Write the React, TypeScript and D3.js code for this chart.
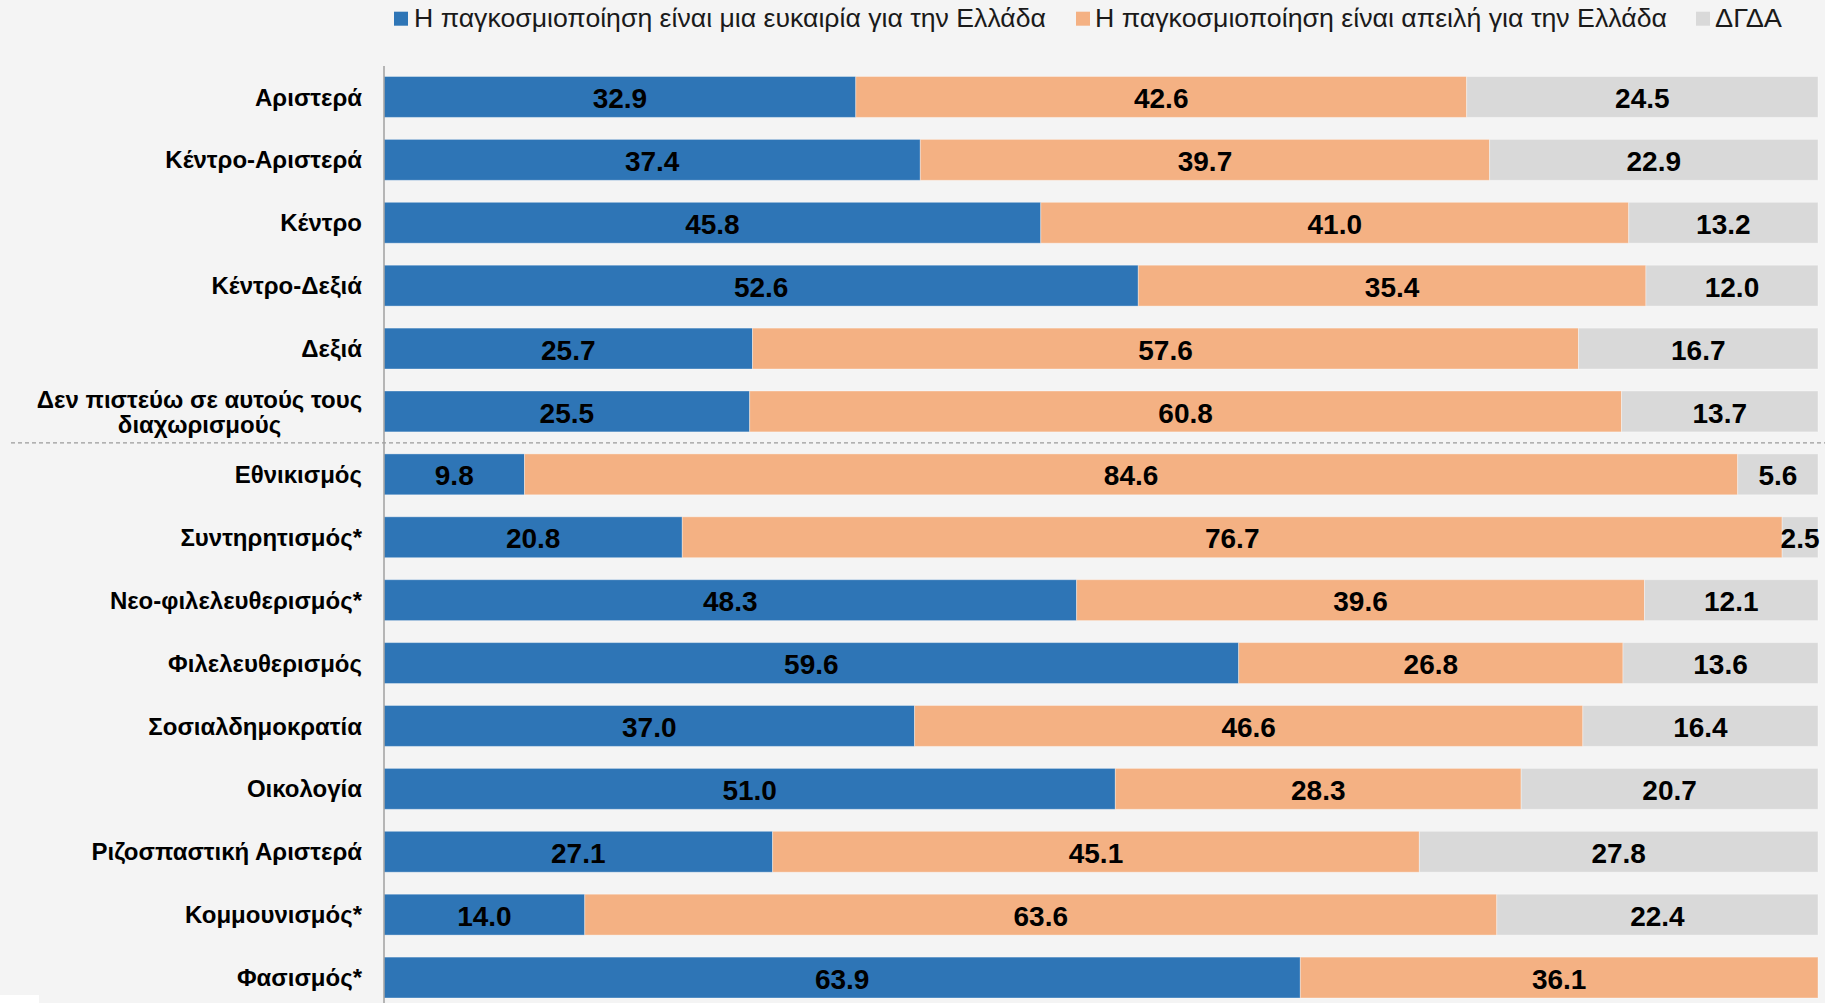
import React from "react";
import * as d3 from "d3";

const categories = [
  "Αριστερά",
  "Κέντρο-Αριστερά",
  "Κέντρο",
  "Κέντρο-Δεξιά",
  "Δεξιά",
  "Δεν πιστεύω σε αυτούς τους|διαχωρισμούς",
  "Εθνικισμός",
  "Συντηρητισμός*",
  "Νεο-φιλελευθερισμός*",
  "Φιλελευθερισμός",
  "Σοσιαλδημοκρατία",
  "Οικολογία",
  "Ριζοσπαστική Αριστερά",
  "Κομμουνισμός*",
  "Φασισμός*",
];
const opportunity = [32.9, 37.4, 45.8, 52.6, 25.7, 25.5, 9.8, 20.8, 48.3, 59.6, 37.0, 51.0, 27.1, 14.0, 63.9];
const threat = [42.6, 39.7, 41.0, 35.4, 57.6, 60.8, 84.6, 76.7, 39.6, 26.8, 46.6, 28.3, 45.1, 63.6, 36.1];
const dontKnow = [24.5, 22.9, 13.2, 12.0, 16.7, 13.7, 5.6, 2.5, 12.1, 13.6, 16.4, 20.7, 27.8, 22.4, 0];
const seriesNames = [
  "Η παγκοσμιοποίηση είναι μια ευκαιρία για την Ελλάδα",
  "Η παγκοσμιοποίηση είναι απειλή για την Ελλάδα",
  "ΔΓΔΑ",
];
const seriesColors = ["#2E75B6", "#F4B183", "#D9D9D9"];

const W = 1825;
const H = 1003;

export default function App() {
  const x = d3.scaleLinear().domain([0, 100]).range([384, 1818]);
  const y = d3
    .scaleBand<string>()
    .domain(categories)
    .range([65.5, 1009])
    .paddingInner(0.35)
    .paddingOuter(0.175);

  const rows = categories.map((c, i) => ({ c, vals: [opportunity[i], threat[i], dontKnow[i]] }));
  const sepY = ((y(categories[5]) as number) + y.bandwidth() + (y(categories[6]) as number)) / 2;

  const legendItems = [
    { sx: 394, tx: 414, tw: 632 },
    { sx: 1076, tx: 1095, tw: 572 },
    { sx: 1696, tx: 1715, tw: 67 },
  ];

  return (
    <svg width={W} height={H} style={{ position: "absolute", left: 0, top: 0, display: "block" }}>
      <rect x={0} y={0} width={W} height={H} fill="#F4F4F4" />
      <rect x={0} y={995} width={39} height={8} fill="#FFFFFF" />

      {/* legend */}
      {legendItems.map((l, i) => (
        <g key={i}>
          <rect x={l.sx} y={11.7} width={14} height={14} fill={seriesColors[i]} />
          <text
            x={l.tx}
            y={27.3}
            fontFamily="Liberation Sans, Arial, sans-serif"
            fontSize={25}
            fill="#1a1a1a"
            textLength={l.tw}
            lengthAdjust="spacingAndGlyphs"
          >
            {seriesNames[i]}
          </text>
        </g>
      ))}

      {/* bars */}
      {rows.map((r) => {
        const y0 = y(r.c) as number;
        const bh = y.bandwidth();
        let cum = 0;
        return (
          <g key={r.c}>
            {r.vals.map((v, j) => {
              const start = cum;
              cum += v;
              if (v <= 0) return null;
              const x0 = x(start);
              const x1 = x(start + v);
              return (
                <g key={j}>
                  <rect x={x0} y={y0} width={x1 - x0} height={bh} fill={seriesColors[j]} stroke="rgba(255,255,255,0.35)" strokeWidth={1} />
                  <text
                    x={(x0 + x1) / 2}
                    y={y0 + bh / 2 + 1}
                    dy="0.36em"
                    textAnchor="middle"
                    fontFamily="Liberation Sans, Arial, sans-serif"
                    fontWeight="bold"
                    fontSize={28}
                    fill="#000"
                  >
                    {v.toFixed(1)}
                  </text>
                </g>
              );
            })}
          </g>
        );
      })}

      {/* category labels */}
      {categories.map((c) => {
        const cy = (y(c) as number) + y.bandwidth() / 2;
        const parts = c.split("|");
        if (parts.length === 1) {
          return (
            <text
              key={c}
              x={362}
              y={cy}
              dy="0.36em"
              textAnchor="end"
              fontFamily="Liberation Sans, Arial, sans-serif"
              fontWeight="bold"
              fontSize={24}
              fill="#000"
            >
              {c}
            </text>
          );
        }
        return (
          <text
            key={c}
            x={199.5}
            textAnchor="middle"
            fontFamily="Liberation Sans, Arial, sans-serif"
            fontWeight="bold"
            fontSize={24}
            fill="#000"
          >
            {parts.map((p, k) => (
              <tspan key={k} x={199.5} y={cy + (k - (parts.length - 1) / 2) * 25} dy="0.36em">
                {p}
              </tspan>
            ))}
          </text>
        );
      })}

      {/* separator */}
      <line x1={11} x2={W} y1={sepY} y2={sepY} stroke="#9a9a9a" strokeWidth={1.2} strokeDasharray="4,3" />

      {/* axis */}
      <line x1={384} x2={384} y1={66} y2={H} stroke="#a0a0a0" strokeWidth={1.5} />
    </svg>
  );
}
